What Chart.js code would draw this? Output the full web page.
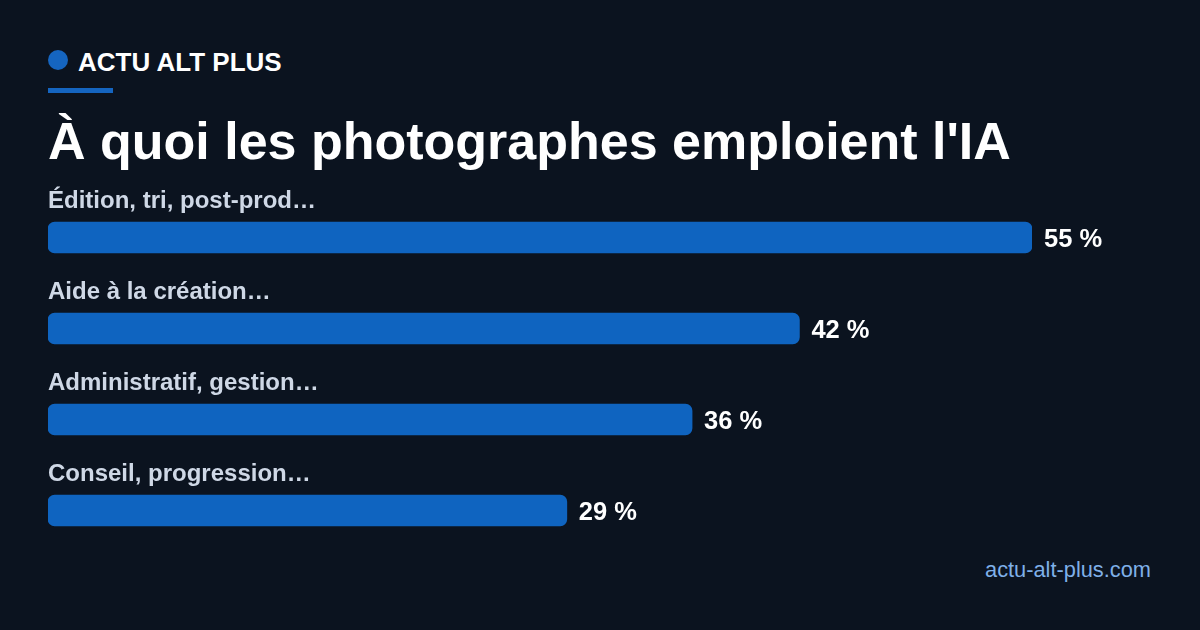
<!DOCTYPE html>
<html><head><meta charset="utf-8">
<script src="https://cdn.jsdelivr.net/npm/chart.js@4"></script>
<style>
body{margin:0;width:1200px;height:630px;background:#0b131f;font-family:"Liberation Sans",Arial,sans-serif;position:relative;overflow:hidden}
.dot{position:absolute;left:48px;top:50px;width:20px;height:20px;border-radius:50%;background:#1565c0}
.brand{position:absolute;left:78px;top:47px;color:#fff;font-weight:bold;font-size:26px}
.rule{position:absolute;left:48px;top:88px;width:65px;height:5px;background:#1565c0}
h1{position:absolute;left:48px;top:111px;margin:0;color:#fff;font-size:52px;font-weight:bold}
.src{position:absolute;right:49px;top:557px;color:#7fb0e8;font-size:21.8px}
#wrap{position:absolute;left:48px;top:172px;width:1110px;height:384px}
</style></head><body>
<div class="dot"></div><div class="brand">ACTU ALT PLUS</div><div class="rule"></div>
<h1>À quoi les photographes emploient l'IA</h1>
<div id="wrap"><canvas id="c"></canvas></div>
<div class="src">actu-alt-plus.com</div>
<script>
// DATA
const categories = ["Édition, tri, post-prod…", "Aide à la création…", "Administratif, gestion…", "Conseil, progression…"];
const values = [55, 42, 36, 29];

// labels above bars + value at bar end
const labelPlugin = {
  id: "labels",
  afterDatasetsDraw(chart) {
    const ctx = chart.ctx;
    const meta = chart.getDatasetMeta(0);
    ctx.save();
    ctx.textBaseline = "middle";
    meta.data.forEach((bar, i) => {
      ctx.font = "bold 24px 'Liberation Sans', Arial, sans-serif";
      ctx.fillStyle = "#cfd8e6";
      ctx.textAlign = "left";
      ctx.fillText(categories[i], chart.chartArea.left, bar.y - 36);
      ctx.font = "bold 25.5px 'Liberation Sans', Arial, sans-serif";
      ctx.fillStyle = "#ffffff";
      ctx.fillText(values[i] + " %", bar.x + 12, bar.y + 2);
    });
    ctx.restore();
  }
};

new Chart(document.getElementById("c"), {
  type: "bar",
  data: {
    labels: categories,
    datasets: [{ data: values, backgroundColor: "#0f64c0", borderRadius: 7, borderSkipped: false, barThickness: 31 }]
  },
  options: {
    indexAxis: "y",
    responsive: true,
    maintainAspectRatio: false,
    animation: false,
    layout: { padding: { left: 0, right: 126, top: 20, bottom: 0 } },
    scales: {
      x: { display: false, min: 0, max: 55 },
      y: { display: false }
    },
    plugins: { legend: { display: false }, tooltip: { enabled: false } }
  },
  plugins: [labelPlugin]
});
</script>
</body></html>
